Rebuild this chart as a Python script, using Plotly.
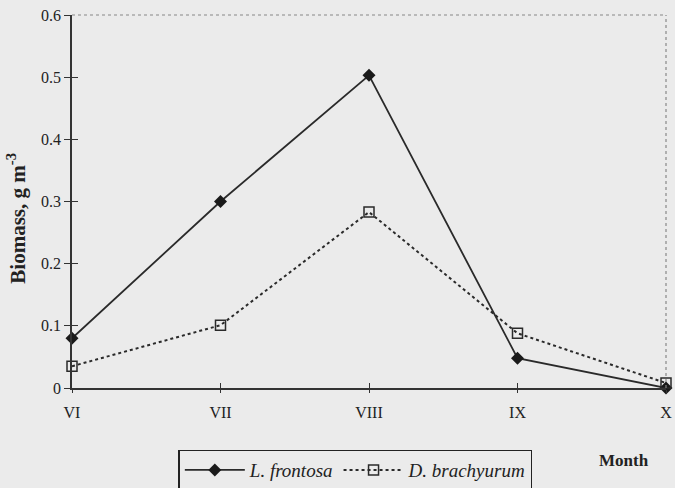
import plotly.graph_objects as go

months = ["VI", "VII", "VIII", "IX", "X"]
l_frontosa = [0.080, 0.300, 0.503, 0.048, 0.000]
d_brachyurum = [0.035, 0.101, 0.283, 0.088, 0.008]
y_ticks = [0, 0.1, 0.2, 0.3, 0.4, 0.5, 0.6]
y_ticktext = ["0", "0.1", "0.2", "0.3", "0.4", "0.5", "0.6"]

xs = list(range(len(months)))
font = "Liberation Serif, Times New Roman, serif"

fig = go.Figure()
fig.add_trace(go.Scatter(
    x=xs, y=l_frontosa, name="<i>L. frontosa</i>", mode="lines+markers",
    line=dict(color="#2a2a2a", width=1.8),
    marker=dict(symbol="diamond", size=10, color="#1a1a1a"),
    cliponaxis=False))
fig.add_trace(go.Scatter(
    x=xs, y=d_brachyurum, name="<i>D. brachyurum</i>", mode="lines+markers",
    line=dict(color="#2a2a2a", width=2, dash="dot"),
    marker=dict(symbol="square-open", size=10, color="#2a2a2a", line=dict(width=1.5)),
    cliponaxis=False))

paper = "#ebebeb"
fig.update_layout(
    width=675, height=488,
    margin=dict(l=72, r=9, t=15, b=100, autoexpand=False),
    paper_bgcolor=paper, plot_bgcolor=paper,
    font=dict(family=font, size=16, color="#222"),
    showlegend=True,
    legend=dict(orientation="h", x=0.179, y=-0.165, xanchor="left", yanchor="top",
                bordercolor="#222", borderwidth=1.5, bgcolor=paper,
                font=dict(size=19, family=font), itemwidth=60,
                tracegroupgap=0),
    xaxis=dict(range=[0, 4], tickvals=xs, ticktext=months, showgrid=False,
               zeroline=False, showline=True, linecolor="#333", linewidth=1.5,
               ticks="outside", ticklen=3, tickcolor="#333", tickwidth=1,
               tickfont=dict(size=16, family=font), automargin=False,
               ticklabeloverflow="allow", ticklabelstandoff=6),
    yaxis=dict(range=[0, 0.6], tickvals=y_ticks, ticktext=y_ticktext, showgrid=False,
               zeroline=False, showline=True, linecolor="#333", linewidth=1.5,
               ticks="outside", ticklen=6, tickcolor="#333", tickwidth=1,
               tickfont=dict(size=16, family=font), automargin=False),
    xaxis2=dict(range=[0, 4], tickvals=xs, overlaying="x", showticklabels=False,
                ticks="inside", ticklen=5, tickcolor="#333", showgrid=False, zeroline=False),
    yaxis2=dict(range=[0, 0.6], tickvals=y_ticks, overlaying="y", showticklabels=False,
                ticks="inside", ticklen=6, tickcolor="#333", showgrid=False, zeroline=False),
)
fig.add_trace(go.Scatter(x=[0], y=[0], xaxis="x2", yaxis="y2", mode="markers",
                         marker=dict(opacity=0), showlegend=False, hoverinfo="skip"))

fig.add_shape(type="line", xref="paper", yref="paper", x0=0, x1=1, y0=1, y1=1,
              line=dict(color="#888", width=1.2, dash="dot"))
fig.add_shape(type="line", xref="paper", yref="paper", x0=1, x1=1, y0=0, y1=1,
              line=dict(color="#888", width=1.2, dash="dot"))

fig.add_annotation(text="<b>Biomass, g m<sup>-3</sup></b>", xref="paper", yref="paper",
                   x=-0.093, y=0.456, textangle=-90, showarrow=False,
                   font=dict(size=21, family=font), xanchor="center", yanchor="middle")
fig.add_annotation(text="<b>Month</b>", xref="paper", yref="paper", x=0.93, y=-0.195,
                   showarrow=False, font=dict(size=17, family=font), xanchor="center",
                   yanchor="middle")

fig.write_html("out.html", config={"displayModeBar": False},
               post_script="document.body.style.margin='0';document.body.style.overflow='hidden';")
